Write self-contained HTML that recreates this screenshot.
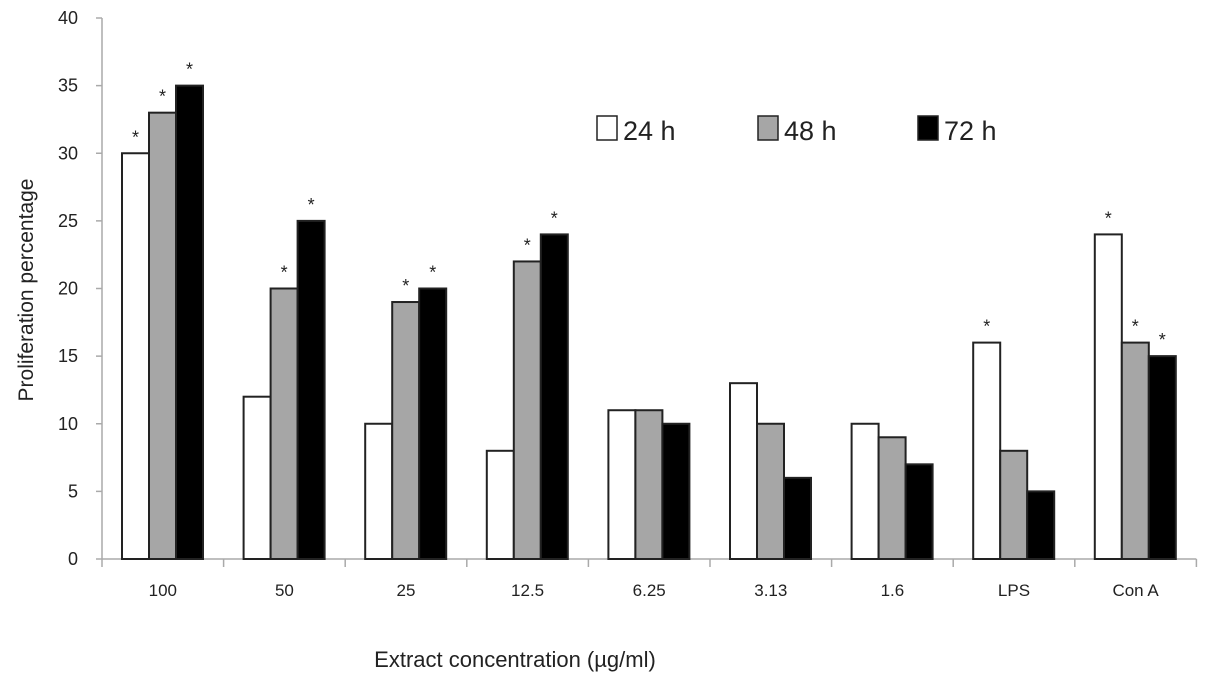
<!DOCTYPE html>
<html><head><meta charset="utf-8"><style>
body{margin:0;background:#fff;}
svg text{font-family:"Liberation Sans",sans-serif;fill:#222;}
</style></head><body>
<svg id="chart" width="1205" height="685" xmlns="http://www.w3.org/2000/svg">
<g id="axes"></g><g id="bars"></g>
<g>
<rect x="597" y="116" width="20" height="24" fill="#fff" stroke="#222" stroke-width="1.5"/>
<text x="623" y="140" font-size="27">24 h</text>
<rect x="758" y="116" width="20" height="24" fill="#a6a6a6" stroke="#222" stroke-width="1.5"/>
<text x="784" y="140" font-size="27">48 h</text>
<rect x="918" y="116" width="20" height="24" fill="#000" stroke="#222" stroke-width="1.5"/>
<text x="944" y="140" font-size="27">72 h</text>
</g>
<text x="515" y="667" font-size="22" text-anchor="middle">Extract concentration  (µg/ml)</text>
<text transform="translate(33,290) rotate(-90)" font-size="21" text-anchor="middle">Proliferation percentage</text>
</svg>
<script>
const categories=["100","50","25","12.5","6.25","3.13","1.6","LPS","Con A"];
const h24=[30,12,10,8,11,13,10,16,24];
const h48=[33,20,19,22,11,10,9,8,16];
const h72=[35,25,20,24,10,6,7,5,15];
const sig24=[1,0,0,0,0,0,0,1,1];
const sig48=[1,1,1,1,0,0,0,0,1];
const sig72=[1,1,1,1,0,0,0,0,1];
const yTicks=[0,5,10,15,20,25,30,35,40];
const NS="http://www.w3.org/2000/svg";
const X0=102,GW=121.6,Y0=559,YT=18,YMAX=40,BW=27;
const y=v=>Y0-(v/YMAX)*(Y0-YT);
const gx=i=>X0+i*GW;
function mk(t,a,p){const e=document.createElementNS(NS,t);for(const k in a)e.setAttribute(k,a[k]);p.appendChild(e);return e;}
const ax=document.getElementById('axes'),bg=document.getElementById('bars');
const yl=mk('line',{x1:X0,y1:YT,x2:X0,y2:Y0,stroke:'#aaa','stroke-width':1.5},ax);


yTicks.forEach(v=>{
 const t=mk('line',{x1:X0-6,x2:X0,y1:y(v),y2:y(v),stroke:'#aaa','stroke-width':1.5},ax);
 
 
 const l=mk('text',{x:X0-24,y:y(v)+6,'font-size':18,'text-anchor':'end'},ax);l.textContent=v;
 
 
});
const xl=mk('line',{x1:X0,y1:Y0,x2:gx(categories.length),y2:Y0,stroke:'#aaa','stroke-width':1.5},ax);


for(let i=0;i<=categories.length;i++){
 const t=mk('line',{x1:gx(i),x2:gx(i),y1:Y0,y2:Y0+8,stroke:'#aaa','stroke-width':1.5},ax);
 
 
}
const series=[[h24,sig24,'#fff','24h'],[h48,sig48,'#a6a6a6','48h'],[h72,sig72,'#000','72h']];
categories.forEach((c,i)=>{
 const l=mk('text',{x:gx(i)+GW/2,y:596,'font-size':17,'text-anchor':'middle'},ax);l.textContent=c;
 
 
 series.forEach((s,j)=>{
  const v=s[0][i],bx=gx(i)+20+j*BW;
  const r=mk('rect',{x:bx,y:y(v),width:BW,height:Y0-y(v),fill:s[2],stroke:'#222','stroke-width':2},bg);
  
  
  if(s[1][i]){
   const st=mk('text',{x:bx+BW/2,y:y(v)-10,'font-size':18,'text-anchor':'middle'},bg);st.textContent='*';
   
   
  }
 });
});
</script>
</body></html>
